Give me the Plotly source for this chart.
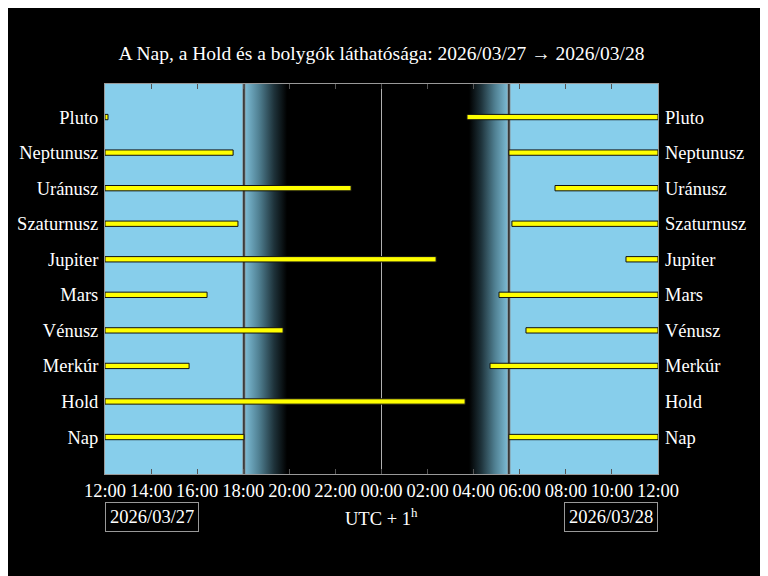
import plotly.graph_objects as go

# ---- data (hours after 12:00 on 2026/03/27, UTC+1) ----
bodies = ["Nap", "Hold", "Merkúr", "Vénusz", "Mars", "Jupiter",
          "Szaturnusz", "Uránusz", "Neptunusz", "Pluto"]
evening_end = [6.03, 15.63, 3.65, 7.73, 4.43, 14.37, 5.77, 10.68, 5.56, 0.13]
morning_start = [17.53, None, 16.71, 18.27, 17.10, 22.61, 17.66, 19.53, 17.53, 15.71]

sunset = 6.03     # 18:02
dusk_end = 7.9    # end of twilight
dawn_start = 15.8
sunrise = 17.53   # 05:32
midnight = 12.0

tick_hours = list(range(0, 25, 2))
tick_labels = ["12:00", "14:00", "16:00", "18:00", "20:00", "22:00", "00:00",
               "02:00", "04:00", "06:00", "08:00", "10:00", "12:00"]
date_left = "2026/03/27"
date_right = "2026/03/28"
title = "A Nap, a Hold és a bolygók láthatósága: 2026/03/27 → 2026/03/28"

FONT = "Liberation Serif"
FS = 18.5
SKY = "#87CEEB"
Y0, Y1 = -1.04, 9.93
ylo, yhi = -3, 12

fig = go.Figure()

def rect(x0, x1, **kw):
    return go.Scatter(x=[x0, x1, x1, x0, x0], y=[ylo, ylo, yhi, yhi, ylo],
                      mode="lines", fill="toself", line=dict(width=0),
                      hoverinfo="skip", showlegend=False, **kw)

# daylight
fig.add_trace(rect(0, sunset, fillcolor=SKY))
fig.add_trace(rect(sunrise, 24, fillcolor=SKY))
# twilight gradients
tw = [[0, "rgb(128,192,218)"], [0.35, "rgb(80,128,146)"],
      [0.7, "rgb(30,50,58)"], [1, "rgb(0,0,0)"]]
tw_rev = [[1 - p, c] for p, c in reversed(tw)]
fig.add_trace(rect(sunset, dusk_end, fillgradient=dict(type="horizontal", colorscale=tw)))
fig.add_trace(rect(dawn_start, sunrise, fillgradient=dict(type="horizontal", colorscale=tw_rev)))

# vertical lines
def vline(x, color, width):
    return go.Scatter(x=[x, x], y=[ylo, yhi], mode="lines",
                      line=dict(color=color, width=width),
                      hoverinfo="skip", showlegend=False)

fig.add_trace(vline(midnight, "#b0b0b0", 1))
fig.add_trace(vline(sunset, "#8a8a8a", 3))
fig.add_trace(vline(sunset, "#000000", 1))
fig.add_trace(vline(sunrise, "#8a8a8a", 3))
fig.add_trace(vline(sunrise, "#000000", 1))

ypos = list(range(len(bodies)))
bar_marker = dict(color="#ffff00", line=dict(color="#111111", width=1))

# evening bars (on overlaid axis so they are drawn above the background)
fig.add_trace(go.Bar(orientation="h", y=ypos, x=evening_end, base=[0] * len(bodies),
                     yaxis="y2", width=0.15, marker=bar_marker,
                     hoverinfo="skip", showlegend=False))
# morning bars
my, mb, mx = [], [], []
for i, s in enumerate(morning_start):
    if s is not None:
        my.append(i)
        mb.append(s)
        mx.append(24 - s)
fig.add_trace(go.Bar(orientation="h", y=my, x=mx, base=mb,
                     yaxis="y2", width=0.15, marker=bar_marker,
                     hoverinfo="skip", showlegend=False))

fig.update_layout(
    width=768, height=576,
    paper_bgcolor="black", plot_bgcolor="black",
    margin=dict(l=97, r=118, t=76, b=110, autoexpand=False),
    font=dict(family=FONT, color="white", size=FS),
    barmode="overlay",
    title=dict(text=title, x=0.5, xref="paper", xanchor="center",
               y=1 - 45 / 576, yref="container", yanchor="middle",
               font=dict(family=FONT, size=19.5, color="white")),
    xaxis=dict(range=[0, 24], tickvals=tick_hours, ticktext=tick_labels,
               ticks="inside", ticklen=5, tickcolor="#555555", tickwidth=1,
               showline=True, linecolor="#999999", linewidth=1, mirror="ticks",
               showgrid=False, zeroline=False, automargin=False,
               tickfont=dict(family=FONT, size=FS, color="white")),
    yaxis=dict(range=[Y0, Y1], tickvals=ypos, ticktext=bodies,
               showline=True, linecolor="#999999", linewidth=1, mirror=True,
               showgrid=False, zeroline=False, ticks="", ticklabelstandoff=2,
               automargin=False,
               tickfont=dict(family=FONT, size=FS, color="white")),
    yaxis2=dict(range=[Y0, Y1], tickvals=ypos, ticktext=bodies, overlaying="y",
                side="right", showgrid=False, zeroline=False, showline=False, ticks="",
                ticklabelstandoff=6, automargin=False,
                tickfont=dict(family=FONT, size=FS, color="white")),
    annotations=[
        dict(text=date_left, xref="x", yref="paper", x=0, y=-0.11,
             xanchor="left", yanchor="middle", showarrow=False,
             bordercolor="#999999", borderwidth=1, borderpad=4,
             font=dict(family=FONT, size=FS, color="white")),
        dict(text=date_right, xref="x", yref="paper", x=24, y=-0.11,
             xanchor="right", yanchor="middle", showarrow=False,
             bordercolor="#999999", borderwidth=1, borderpad=4,
             font=dict(family=FONT, size=FS, color="white")),
        dict(text="UTC + 1<sup>h</sup>", xref="x", yref="paper", x=12, y=-0.11,
             xanchor="center", yanchor="middle", showarrow=False,
             font=dict(family=FONT, size=FS, color="white")),
    ],
)

fig.write_html("out.html")
